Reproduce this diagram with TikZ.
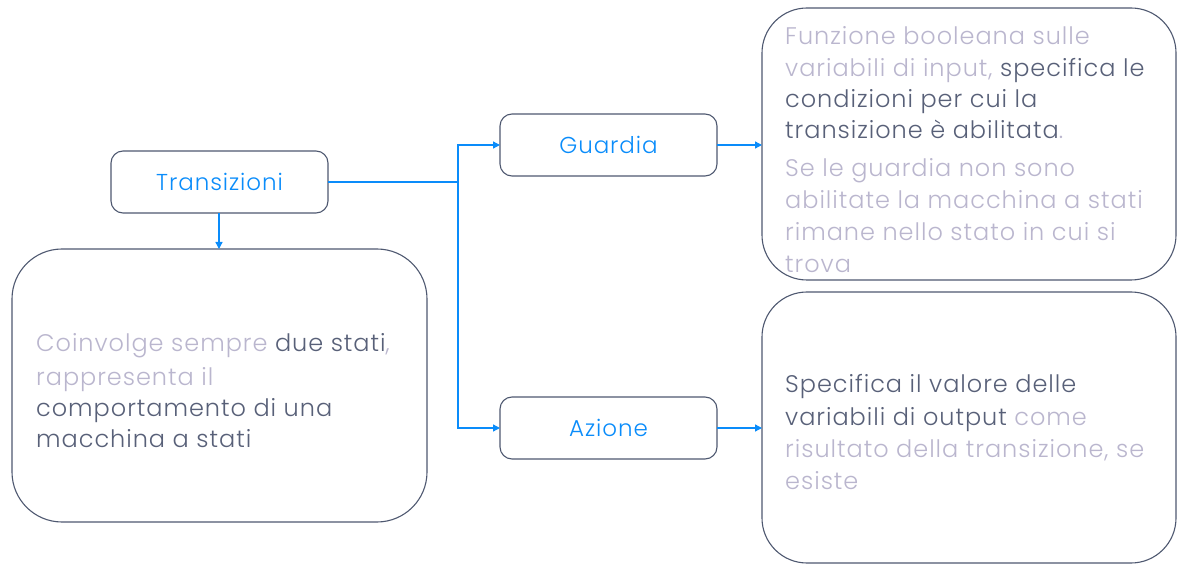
\documentclass[tikz,border=0pt]{standalone}
\usepackage{fontspec}
\setmainfont{Poppins Light}[LetterSpace=4]
\usetikzlibrary{arrows.meta}
\definecolor{bord}{RGB}{78,88,112}
\definecolor{dark}{RGB}{88,96,120}
\definecolor{light}{RGB}{186,182,206}
\definecolor{blu}{RGB}{10,140,250}
\begin{document}
\begin{tikzpicture}[x=1pt,y=-1pt,
  box/.style={draw=bord,line width=1.1pt,rounded corners=#1},
  hd/.style={text=blu,font=\fontsize{23}{26}\selectfont},
  ln/.style={anchor=base west,inner sep=0pt,font=\fontsize{24}{30}\selectfont,text=dark},
  conn/.style={draw=blu,line width=1.3pt,-{Triangle[length=7pt,width=7pt]}}]
\useasboundingbox (0,0) rectangle (1189,569);
% boxes
\draw[box=12pt] (111,151) rectangle (328,213);
\node[hd] (tr) at (219.5,182) {Transizioni};
\coordinate (trR) at (328,182);
\coordinate (trB) at (219,213);
\draw[box=50pt] (12,249) rectangle (427,522);
\coordinate (bigT) at (219,249);
\draw[box=12pt] (500,114) rectangle (717,176);
\node[hd] (gu) at (608.5,145) {Guardia};
\coordinate (guL) at (500,145);
\coordinate (guR) at (717,145);
\draw[box=12pt] (500,397) rectangle (717,459);
\node[hd] (az) at (608.5,428) {Azione};
\coordinate (azL) at (500,428);
\coordinate (azR) at (717,428);
\draw[box=45pt] (762,8) rectangle (1176,280);
\coordinate (trbL) at (762,145);
\draw[box=45pt] (762,292) rectangle (1176,563);
\coordinate (brbL) at (762,428);
\coordinate (j) at (458,182);
% connectors
\draw[draw=blu,line width=1.3pt] (trR) -- (j);
\draw[conn] (j) |- (guL);
\draw[conn] (j) |- (azL);
\draw[conn] (trB) -- (bigT);
\draw[conn] (guR) -- (trbL);
\draw[conn] (azR) -- (brbL);
% left text
\node[ln] (l1) at (36,352) {\textcolor{light}{Coinvolge sempre} due stati\textcolor{light}{,}};
\node[ln] (l2) at (36,385) {\textcolor{light}{rappresenta il}};
\node[ln] (l3) at (36,416) {comportamento di una};
\node[ln] (l4) at (36,447) {macchina a stati};
% top right text
\node[ln] (a1) at (785,45) {\textcolor{light}{Funzione booleana sulle}};
\node[ln] (a2) at (785,77) {\textcolor{light}{variabili di input,} specifica le};
\node[ln] (a3) at (785,108) {condizioni per cui la};
\node[ln] (a4) at (785,139) {transizione è abilitata\textcolor{light}{.}};
\node[ln] (a5) at (785,177) {\textcolor{light}{Se le guardia non sono}};
\node[ln] (a6) at (785,209) {\textcolor{light}{abilitate la macchina a stati}};
\node[ln] (a7) at (785,241) {\textcolor{light}{rimane nello stato in cui si}};
\node[ln] (a8) at (785,273) {\textcolor{light}{trova}};
% bottom right text
\node[ln] (b1) at (785,392) {Specifica il valore delle};
\node[ln] (b2) at (785,425) {variabili di output \textcolor{light}{come}};
\node[ln] (b3) at (785,457) {\textcolor{light}{risultato della transizione, se}};
\node[ln] (b4) at (785,489) {\textcolor{light}{esiste}};
\end{tikzpicture}
\end{document}
